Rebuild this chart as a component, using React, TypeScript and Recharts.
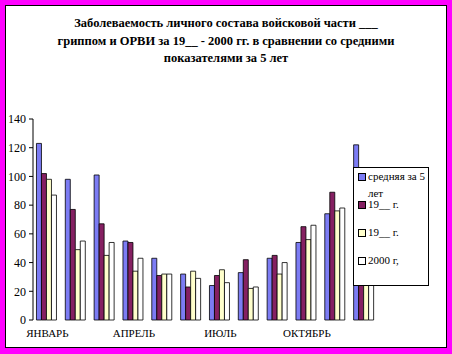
import React from "react";
import { BarChart, Bar, XAxis, YAxis, Legend } from "recharts";

// Заболеваемость по месяцам

const months = [
  "ЯНВАРЬ", "ФЕВРАЛЬ", "МАРТ", "АПРЕЛЬ", "МАЙ", "ИЮНЬ",
  "ИЮЛЬ", "АВГУСТ", "СЕНТЯБРЬ", "ОКТЯБРЬ", "НОЯБРЬ", "ДЕКАБРЬ",
];
const shownMonths = ["ЯНВАРЬ", "АПРЕЛЬ", "ИЮЛЬ", "ОКТЯБРЬ"];

const avg5 = [123, 98, 101, 55, 43, 32, 24, 33, 43, 54, 74, 122];
const year1 = [102, 77, 67, 54, 31, 23, 31, 42, 45, 65, 89, 98];
const year2 = [98, 49, 45, 34, 32, 34, 35, 22, 32, 56, 76, 85];
const year2000 = [87, 55, 54, 43, 32, 29, 26, 23, 40, 66, 78, 92];

const yTicks = [0, 20, 40, 60, 80, 100, 120, 140];
const edgeTicks = [0, 1, 2, 3, 4, 5, 6, 7, 8, 9, 10, 11, 12];

const series = [
  { key: "avg5", label: "средняя за 5 лет", color: "#7c7cf4" },
  { key: "year1", label: "19__ г.", color: "#852062" },
  { key: "year2", label: "19__ г.", color: "#ffffcc" },
  { key: "year2000", label: "2000 г,", color: "#ffffff" },
];

const data = months.map((m, i) => ({
  month: m,
  avg5: avg5[i],
  year1: year1[i],
  year2: year2[i],
  year2000: year2000[i],
}));

const serif = '"Liberation Serif", "Times New Roman", serif';

const LegendBox = () => (
  <div
    style={{
      position: "relative",
      width: 76,
      height: 119,
      boxSizing: "border-box",
      border: "1px solid #000",
      background: "#fff",
      fontFamily: serif,
      fontSize: 11,
      color: "#000",
    }}
  >
    {series.map((s, i) => (
      <div
        key={s.key}
        style={{ position: "absolute", left: 4, top: i * 28, display: "flex" }}
      >
        <div
          style={{
            width: 6,
            height: 6,
            marginTop: 5,
            border: "1px solid #000",
            background: s.color,
            flex: "none",
          }}
        />
        <div style={{ width: 60, marginLeft: 2, lineHeight: "17px" }}>{s.label}</div>
      </div>
    ))}
  </div>
);

const App: React.FC = () => {
  return (
    <div
      style={{
        position: "absolute",
        left: 0,
        top: 0,
        width: 452,
        height: 354,
        background: "#ff00ff",
      }}
    >
      <div
        style={{
          position: "absolute",
          left: 5,
          top: 5,
          width: 442,
          height: 343,
          boxSizing: "border-box",
          border: "1px solid #000",
          background: "#fff",
        }}
      />
      <div
        style={{
          position: "absolute",
          left: 0,
          top: 15,
          width: 452,
          textAlign: "center",
          fontFamily: serif,
          fontWeight: "bold",
          fontSize: 12.5,
          lineHeight: "17.5px",
          color: "#000",
        }}
      >
        Заболеваемость личного состава войсковой части ___
        <br />
        гриппом и ОРВИ за 19__ - 2000 гг. в сравнении со средними
        <br />
        показателями за 5 лет
      </div>
      <div style={{ position: "absolute", left: 0, top: 0 }}>
        <BarChart
          width={452}
          height={354}
          data={data}
          margin={{ top: 119, right: 73, left: 5, bottom: 4 }}
          barCategoryGap="12%"
          barGap={0}
          style={{ fontFamily: serif }}
        >
          <XAxis
            xAxisId="top"
            orientation="top"
            type="number"
            domain={[0, 1]}
            height={0}
            tick={false}
            tickLine={false}
            axisLine={{ stroke: "#808080" }}
          />
          <XAxis
            xAxisId="edges"
            type="number"
            domain={[0, 12]}
            ticks={edgeTicks}
            height={0}
            tick={false}
            tickSize={4}
            tickLine={{ stroke: "#000" }}
            axisLine={{ stroke: "#000" }}
          />
          <XAxis
            xAxisId="cat"
            dataKey="month"
            height={30}
            interval={0}
            axisLine={false}
            tickLine={false}
            tickSize={0}
            tickMargin={9}
            tickFormatter={(v: string) => (shownMonths.includes(v) ? v : "")}
            tick={{ fill: "#000", fontSize: 11 }}
          />
          <YAxis
            yAxisId="left"
            width={28}
            domain={[0, 140]}
            ticks={yTicks}
            tickSize={4}
            tickMargin={3}
            tick={{ fill: "#000", fontSize: 12 }}
            tickLine={{ stroke: "#000" }}
            axisLine={{ stroke: "#000" }}
          />
          <YAxis
            yAxisId="right"
            orientation="right"
            width={0}
            domain={[0, 1]}
            tick={false}
            tickLine={false}
            axisLine={{ stroke: "#808080" }}
          />
          {series.map((s) => (
            <Bar
              key={s.key}
              dataKey={s.key}
              name={s.label}
              xAxisId="cat"
              yAxisId="left"
              fill={s.color}
              stroke="#000"
              strokeWidth={0.8}
              isAnimationActive={false}
            />
          ))}
          <Legend
            layout="vertical"
            align="center"
            verticalAlign="middle"
            content={<LegendBox />}
            wrapperStyle={{ position: "absolute", left: 353, top: 167, width: 76, height: 119 }}
          />
        </BarChart>
      </div>
    </div>
  );
};

export default App;
